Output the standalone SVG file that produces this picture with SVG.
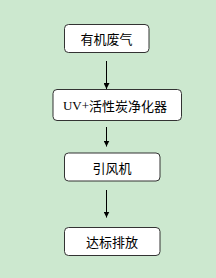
<svg xmlns="http://www.w3.org/2000/svg" width="216" height="278" viewBox="0 0 216 278">
<defs>
<style>
.box{fill:#fff;stroke:#333;stroke-width:1}
.t{font-family:"Noto Sans CJK SC","Liberation Sans",sans-serif;font-size:13px;fill:#000;text-anchor:middle;dominant-baseline:central}
.s{font-family:"Liberation Serif",serif}
.c{stroke:#000;stroke-width:1;fill:none;marker-end:url(#ah)}
</style>
<marker id="ah" viewBox="0 0 10 10" refX="10" refY="5" markerWidth="6" markerHeight="6" markerUnits="userSpaceOnUse" orient="auto"><path d="M0,0L10,5L0,10z" fill="#000"/></marker>
</defs>
<rect width="216" height="278" fill="#cce8cf"/>
<g id="connectors">
<line class="c" x1="106.5" y1="61" x2="106.5" y2="89"/>
<line class="c" x1="106.5" y1="127" x2="106.5" y2="146.5"/>
<line class="c" x1="106.5" y1="190" x2="106.5" y2="217.5"/>
</g>
<g id="n1"><rect class="box" x="64.5" y="24.5" width="84.5" height="28" rx="4"/><text class="t" x="106.5" y="38.5">有机废气</text></g>
<g id="n2"><rect class="box" x="53" y="89.5" width="128.5" height="31" rx="4"/><text class="t" x="115" y="105"><tspan class="s">UV+</tspan>活性炭净化器</text></g>
<g id="n3"><rect class="box" x="64.5" y="153" width="95.5" height="28" rx="4"/><text class="t" x="112" y="167">引风机</text></g>
<g id="n4"><rect class="box" x="64.5" y="227.5" width="95.5" height="28" rx="4"/><text class="t" x="112" y="241.5">达标排放</text></g>
</svg>
